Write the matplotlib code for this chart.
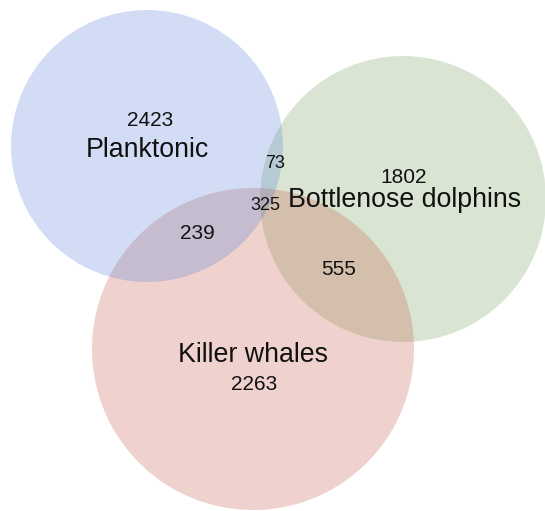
# -*- coding: utf-8 -*-
'''
三个集合的 Venn 图 (Planktonic / Bottlenose dolphins / Killer whales)
输出: out.png  (545x511)
'''

import matplotlib
matplotlib.use('Agg')
import matplotlib.pyplot as plt
from matplotlib.patches import Circle

plt.rcParams['font.family'] = ['Liberation Sans', 'DejaVu Sans']

# 数据
set_names = ['Planktonic', 'Bottlenose dolphins', 'Killer whales']
set_only = [2423, 1802, 2263]                      # 只属于一个集合
pair_counts = [73, 239, 555]                       # P&B, P&K, B&K
all_three = 325                                    # 三者共有
set_colors = ['#4f7bdb', '#6b9b4f', '#c34f3b']     # 蓝 / 绿 / 红

W, H = 545, 511


def draw_venn(ax):
    # 圆心和半径(像素坐标)
    circles = [(147, 146, 136), (403, 199, 143), (253, 349, 161)]
    zorders = [3, 1, 2]       # 绿在最下, 红在中间, 蓝在最上
    for (cx, cy, r), col, z in zip(circles, set_colors, zorders):
        ax.add_patch(Circle((cx, cy), r, facecolor=col, alpha=0.25,
                            linewidth=0, zorder=z))

    tc = '#111111'
    big = 19.3
    num = 15
    small = 13

    # 集合名称 (y = 字母中心 + 半个字高 -> baseline)
    name_pos = [(147, 147), (404.5, 197.5), (252.5, 352.5)]
    for name, (x, y) in zip(set_names, name_pos):
        ax.text(x, y + 9.6, name, fontsize=big, color=tc, ha='center',
                va='baseline', zorder=10)

    only_pos = [(150, 119), (404, 175.5), (254, 382.5)]
    for v, (x, y) in zip(set_only, only_pos):
        ax.text(x, y + 7.4, str(v), fontsize=num, color=tc, ha='center',
                va='baseline', zorder=10)

    pair_pos = [(275.5, 161.5), (197, 232), (339, 268)]
    pair_size = [small, num, num]
    for v, (x, y), fs in zip(pair_counts, pair_pos, pair_size):
        ax.text(x, y + fs * 0.716 * 100 / 72 / 2, str(v), fontsize=fs,
                color=tc, ha='center', va='baseline', zorder=10)

    ax.text(265, 204 + small * 0.716 * 100 / 72 / 2, str(all_three),
            fontsize=small, color=tc, ha='center', va='baseline', zorder=10)


def run():
    fig = plt.figure(figsize=(W / 100, H / 100), dpi=100)
    ax = fig.add_axes([0, 0, 1, 1])
    ax.set_xlim(0, W)
    ax.set_ylim(H, 0)
    ax.axis('off')
    draw_venn(ax)
    fig.savefig('out.png', dpi=100, facecolor='white')


if __name__ == '__main__':
    run()
